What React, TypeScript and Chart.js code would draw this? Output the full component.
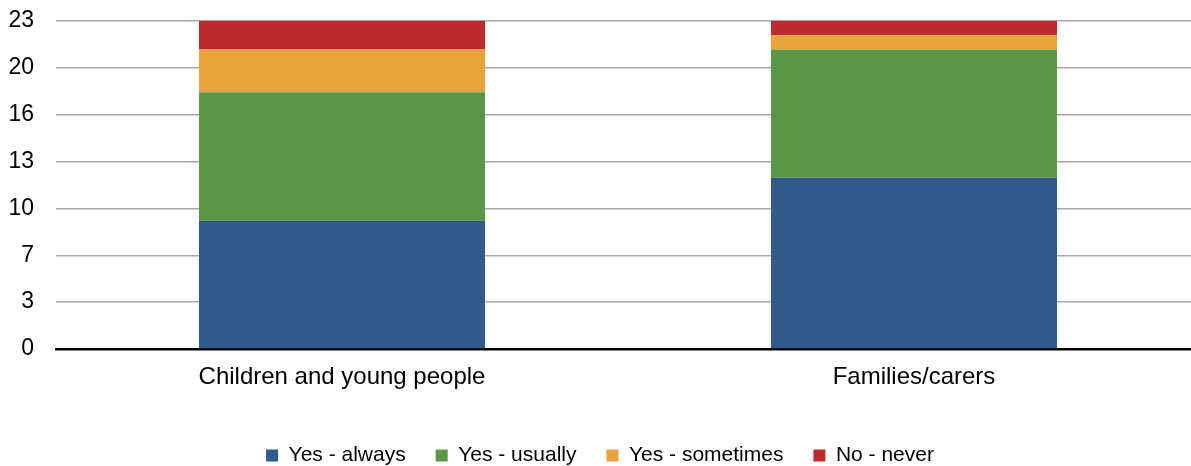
import React, { useEffect, useRef } from "react";
import { Chart, registerables } from "chart.js";

Chart.register(...registerables);

const categories = ["Children and young people", "Families/carers"];
const yesAlways = [9, 12];
const yesUsually = [9, 9];
const yesSometimes = [3, 1];
const noNever = [2, 1];
const yMax = 23;
const yTickLabels = ["0", "3", "7", "10", "13", "16", "20", "23"];

const FONT = "'Liberation Sans', Arial, sans-serif";

export default function App() {
  const ref = useRef<HTMLCanvasElement | null>(null);

  useEffect(() => {
    if (!ref.current) return;
    const steps = yTickLabels.length - 1;
    const chart = new Chart(ref.current, {
      type: "bar",
      data: {
        labels: categories,
        datasets: [
          { label: "Yes - always", data: yesAlways, backgroundColor: "#2F5A8B" },
          { label: "Yes - usually", data: yesUsually, backgroundColor: "#5B9749" },
          { label: "Yes - sometimes", data: yesSometimes, backgroundColor: "#E8A33D" },
          { label: "No - never", data: noNever, backgroundColor: "#BE2B2F" },
        ],
      },
      options: {
        animation: false,
        responsive: false,
        maintainAspectRatio: false,
        layout: { padding: { top: 21, left: 0, right: 0, bottom: 0 } },
        datasets: { bar: { barPercentage: 0.5, categoryPercentage: 1 } },
        plugins: {
          tooltip: { enabled: false },
          legend: {
            position: "bottom",
            labels: {
              boxWidth: 12,
              boxHeight: 12,
              padding: 30,
              color: "#000",
              font: { family: FONT, size: 21 },
            },
          },
        },
        scales: {
          x: {
            stacked: true,
            grid: { display: false, drawTicks: false },
            border: { display: true, color: "#000", width: 2.5 },
            ticks: { padding: 14, color: "#000", font: { family: FONT, size: 24 } },
            afterFit: (s: any) => {
              s.height = 66;
            },
          },
          y: {
            stacked: true,
            min: 0,
            max: yMax,
            border: { display: false },
            grid: { color: "#a8a8a8", lineWidth: 1.5, drawTicks: false },
            ticks: {
              padding: 22,
              color: "#000",
              font: { family: FONT, size: 23 },
              callback: (_v: any, i: number) => yTickLabels[i],
            },
            afterBuildTicks: (s: any) => {
              s.ticks = yTickLabels.map((_, i) => ({ value: (i * yMax) / steps }));
            },
            afterFit: (s: any) => {
              s.width = 56;
              s.paddingTop = 14;
              s.paddingBottom = 14;
            },
          },
        },
      },
    });
    return () => chart.destroy();
  }, []);

  return (
    <div
      style={{
        position: "absolute",
        left: 0,
        top: 0,
        width: 1191,
        height: 466,
        overflow: "hidden",
        background: "#fff",
      }}
    >
      <canvas ref={ref} width={1200} height={476} style={{ display: "block", width: 1200, height: 476 }} />
    </div>
  );
}
